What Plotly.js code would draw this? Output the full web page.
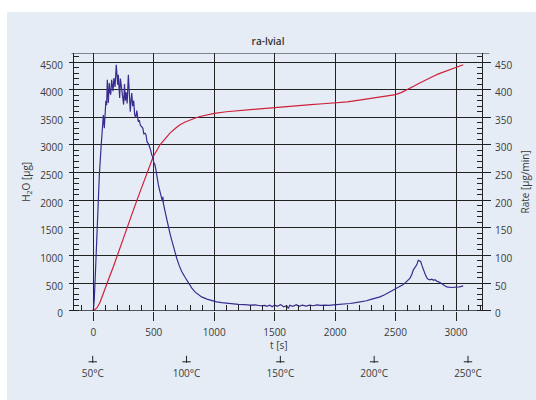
<!DOCTYPE html>
<html><head><meta charset="utf-8">
<script src="https://cdn.plot.ly/plotly-3.0.1.min.js"></script>
<style>
html,body{margin:0;padding:0;background:#ffffff;}
#chart{position:absolute;left:7px;top:12px;width:529px;height:388px;}
</style></head>
<body><div id="chart"></div>
<script>
// ---- data ----
const title = "ra-lvial";
// Rate curve (right axis, µg/min)
const rateT = [0,8,16,24,32,41,50,64,75,83,91,97,104,110,116,124,132,138,144,152,158,163,171,180,190,196,202,207,212,218,224,232,240,251,258,265,272,280,290,298,306,312,318,326,334,342,351,360,366,372,380,390,400,410,418,428,436,445,455,465,475,483,492,500,510,518,524,531,538,552,566,572,576,579,593,607,620,634,648,662,676,690,710,731,760,786,815,841,870,896,940,979,1020,1062,1110,1158,1200,1250,1296,1340,1380,1420,1434,1460,1480,1500,1520,1550,1575,1600,1613,1625,1650,1680,1700,1730,1760,1790,1820,1848,1880,1920,1950,1985,2030,2080,2123,2170,2220,2261,2289,2330,2371,2410,2454,2500,2537,2560,2578,2600,2620,2635,2647,2660,2675,2688,2698,2708,2718,2730,2745,2758,2770,2785,2800,2815,2826,2845,2868,2895,2923,2960,3006,3030,3060];
const rateV = [0,20,60,110,160,205,245,295,335,354,330,357,380,372,418,376,412,395,391,418,400,397,421,405,445,425,409,427,410,385,420,405,395,373,410,380,395,375,427,390,360,380,394,370,380,355,349,362,350,342,345,335,333,330,320,321,318,305,303,298,290,282,278,268,264,255,246,238,228,215,204,198,206,195,180,164,152,140,128,116,105,95,82,71,60,50,41,34,29,25,21,18,16,14.5,13,12,11.5,11,10,10.5,9,9.5,8,10,7,10.5,8,11,7,9,4,10,8,11,8,10,8.5,10,9,10.5,9.5,10,9.5,10.5,11,12,13,14.5,16,18,20,22,25,29,34,39,43,47,50,54,59,66,74,78,83,91,90,89,82,74,66,60,57,56,57,55,56,53,51,47,43,42,42,43,45];
// Cumulative H2O curve (left axis, µg)
const waterT = [0,30,55,90,124,165,207,250,290,330,372,415,455,496,552,600,634,680,717,760,800,850,883,950,1000,1100,1200,1300,1400,1500,1600,1700,1800,1900,2000,2100,2200,2300,2400,2500,2550,2600,2650,2700,2750,2800,2850,2900,2950,3000,3060];
const waterV = [0,50,150,340,556,790,1040,1300,1553,1810,2065,2320,2549,2790,3002,3130,3214,3300,3364,3415,3455,3492,3514,3550,3570,3600,3620,3640,3660,3675,3690,3710,3730,3745,3760,3780,3810,3840,3870,3910,3950,4000,4060,4120,4180,4230,4280,4320,4360,4400,4450];
// Temperature scale
const tempVals = [50,100,150,200,250];
const tempText = ["50°C","100°C","150°C","200°C","250°C"];

const FONT = "Open Sans, Noto Sans, sans-serif";
const TXT = "#3a3a3a";
const GRID = "#222222";

// vertical placement of the temperature tick glyph parts inside the small strip axis (range -1..1)
const TEMP_MARK_Y = -0.57;
const TEMP_BASE_Y = -0.97;

const traces = [
  {x: waterT, y: waterV, type: "scatter", mode: "lines", xaxis: "x", yaxis: "y",
   line: {color: "#d0203a", width: 1.2}, hoverinfo: "skip"},
  {x: rateT, y: rateV, type: "scatter", mode: "lines", xaxis: "x", yaxis: "y2",
   line: {color: "#3a2c8e", width: 1.2}, hoverinfo: "skip"},
  {x: tempVals, y: tempVals.map(() => TEMP_MARK_Y), xaxis: "x3", yaxis: "y3", type: "scatter", mode: "markers",
   cliponaxis: false, hoverinfo: "skip",
   marker: {symbol: "line-ns", size: 5, color: GRID, line: {width: 1, color: GRID}}},
  {x: tempVals, y: tempVals.map(() => TEMP_BASE_Y), xaxis: "x3", yaxis: "y3", type: "scatter", mode: "markers",
   cliponaxis: false, hoverinfo: "skip",
   marker: {symbol: "line-ew", size: 6, color: GRID, line: {width: 1, color: GRID}}}
];

const yDom = [0.166, 1];
const layout = {
  width: 529, height: 388,
  margin: {l: 67, r: 54, t: 41, b: 38},
  paper_bgcolor: "#e5ecf5",
  plot_bgcolor: "#e5ecf5",
  showlegend: false,
  font: {family: FONT, size: 10, color: TXT},
  title: {text: title, x: 0.4934, xref: "container", y: 0.9235, yref: "container",
          xanchor: "center", yanchor: "middle", font: {family: FONT, size: 10, color: "#333", weight: 600}},
  xaxis: {
    range: [-159.6, 3215], domain: [0, 1], anchor: "y",
    tickvals: [0,500,1000,1500,2000,2500,3000],
    showgrid: true, gridcolor: GRID, gridwidth: 1,
    zeroline: false, showline: false,
    ticks: "outside", ticklen: 9, tickcolor: GRID, tickwidth: 1,
    minor: {dtick: 100, tick0: 0, ticks: "inside", ticklen: 6, tickcolor: GRID, showgrid: false},
    ticklabelstandoff: 3,
    tickfont: {family: FONT, size: 10, color: TXT}
  },
  xaxis3: {
    domain: [0, 1], anchor: "y3",
    range: [40.03, 257.46],
    tickvals: tempVals, ticktext: tempText,
    showgrid: false, zeroline: false, showline: false,
    ticks: "", ticklabelstandoff: 4,
    tickfont: {family: FONT, size: 10, color: TXT}
  },
  yaxis3: {
    domain: [0, 0.04], anchor: "x3", range: [-1, 1],
    visible: false, showgrid: false, zeroline: false, showline: false
  },
  yaxis: {
    range: [0, 4663], domain: yDom, anchor: "x",
    dtick: 500, tick0: 0,
    showgrid: true, gridcolor: GRID, gridwidth: 1,
    zeroline: false, showline: true, linecolor: GRID, linewidth: 1,
    ticks: "outside", ticklen: 4, tickcolor: GRID,
    minor: {dtick: 100, tick0: 0, ticks: "inside", ticklen: 5, tickcolor: GRID, showgrid: false},
    ticklabelstandoff: 4, ticklabelshift: 3,
    tickfont: {family: FONT, size: 10, color: TXT},
    title: {text: "H<sub>2</sub>O [µg]", standoff: 7, font: {family: FONT, size: 10, color: TXT}}
  },
  yaxis2: {
    range: [0, 466.3], domain: yDom, anchor: "x", overlaying: "y", side: "right",
    dtick: 50, tick0: 0,
    showgrid: false, zeroline: false, showline: true, linecolor: GRID, linewidth: 1,
    ticks: "outside", ticklen: 8, tickcolor: GRID,
    minor: {dtick: 10, tick0: 0, ticks: "inside", ticklen: 5, tickcolor: GRID, showgrid: false},
    ticklabelstandoff: 2, ticklabelshift: 3,
    tickfont: {family: FONT, size: 10, color: TXT},
    title: {text: "Rate [µg/min]", standoff: 10, font: {family: FONT, size: 10, color: TXT}}
  },
  annotations: [
    {text: "t [s]", xref: "paper", yref: "paper", x: 0.5, y: 0.054, xanchor: "center", yanchor: "middle",
     showarrow: false, font: {family: FONT, size: 10, color: TXT}}
  ],
  shapes: [
    {type: "line", xref: "paper", yref: "y", x0: -0.006, x1: 1.018, y0: 0, y1: 0,
     line: {color: GRID, width: 1.2}},
    {type: "line", xref: "paper", yref: "y", x0: -0.006, x1: 1.018, y0: 4663, y1: 4663,
     line: {color: GRID, width: 1.2}}
  ]
};

Plotly.newPlot("chart", traces, layout, {staticPlot: true, displayModeBar: false});
</script></body></html>
